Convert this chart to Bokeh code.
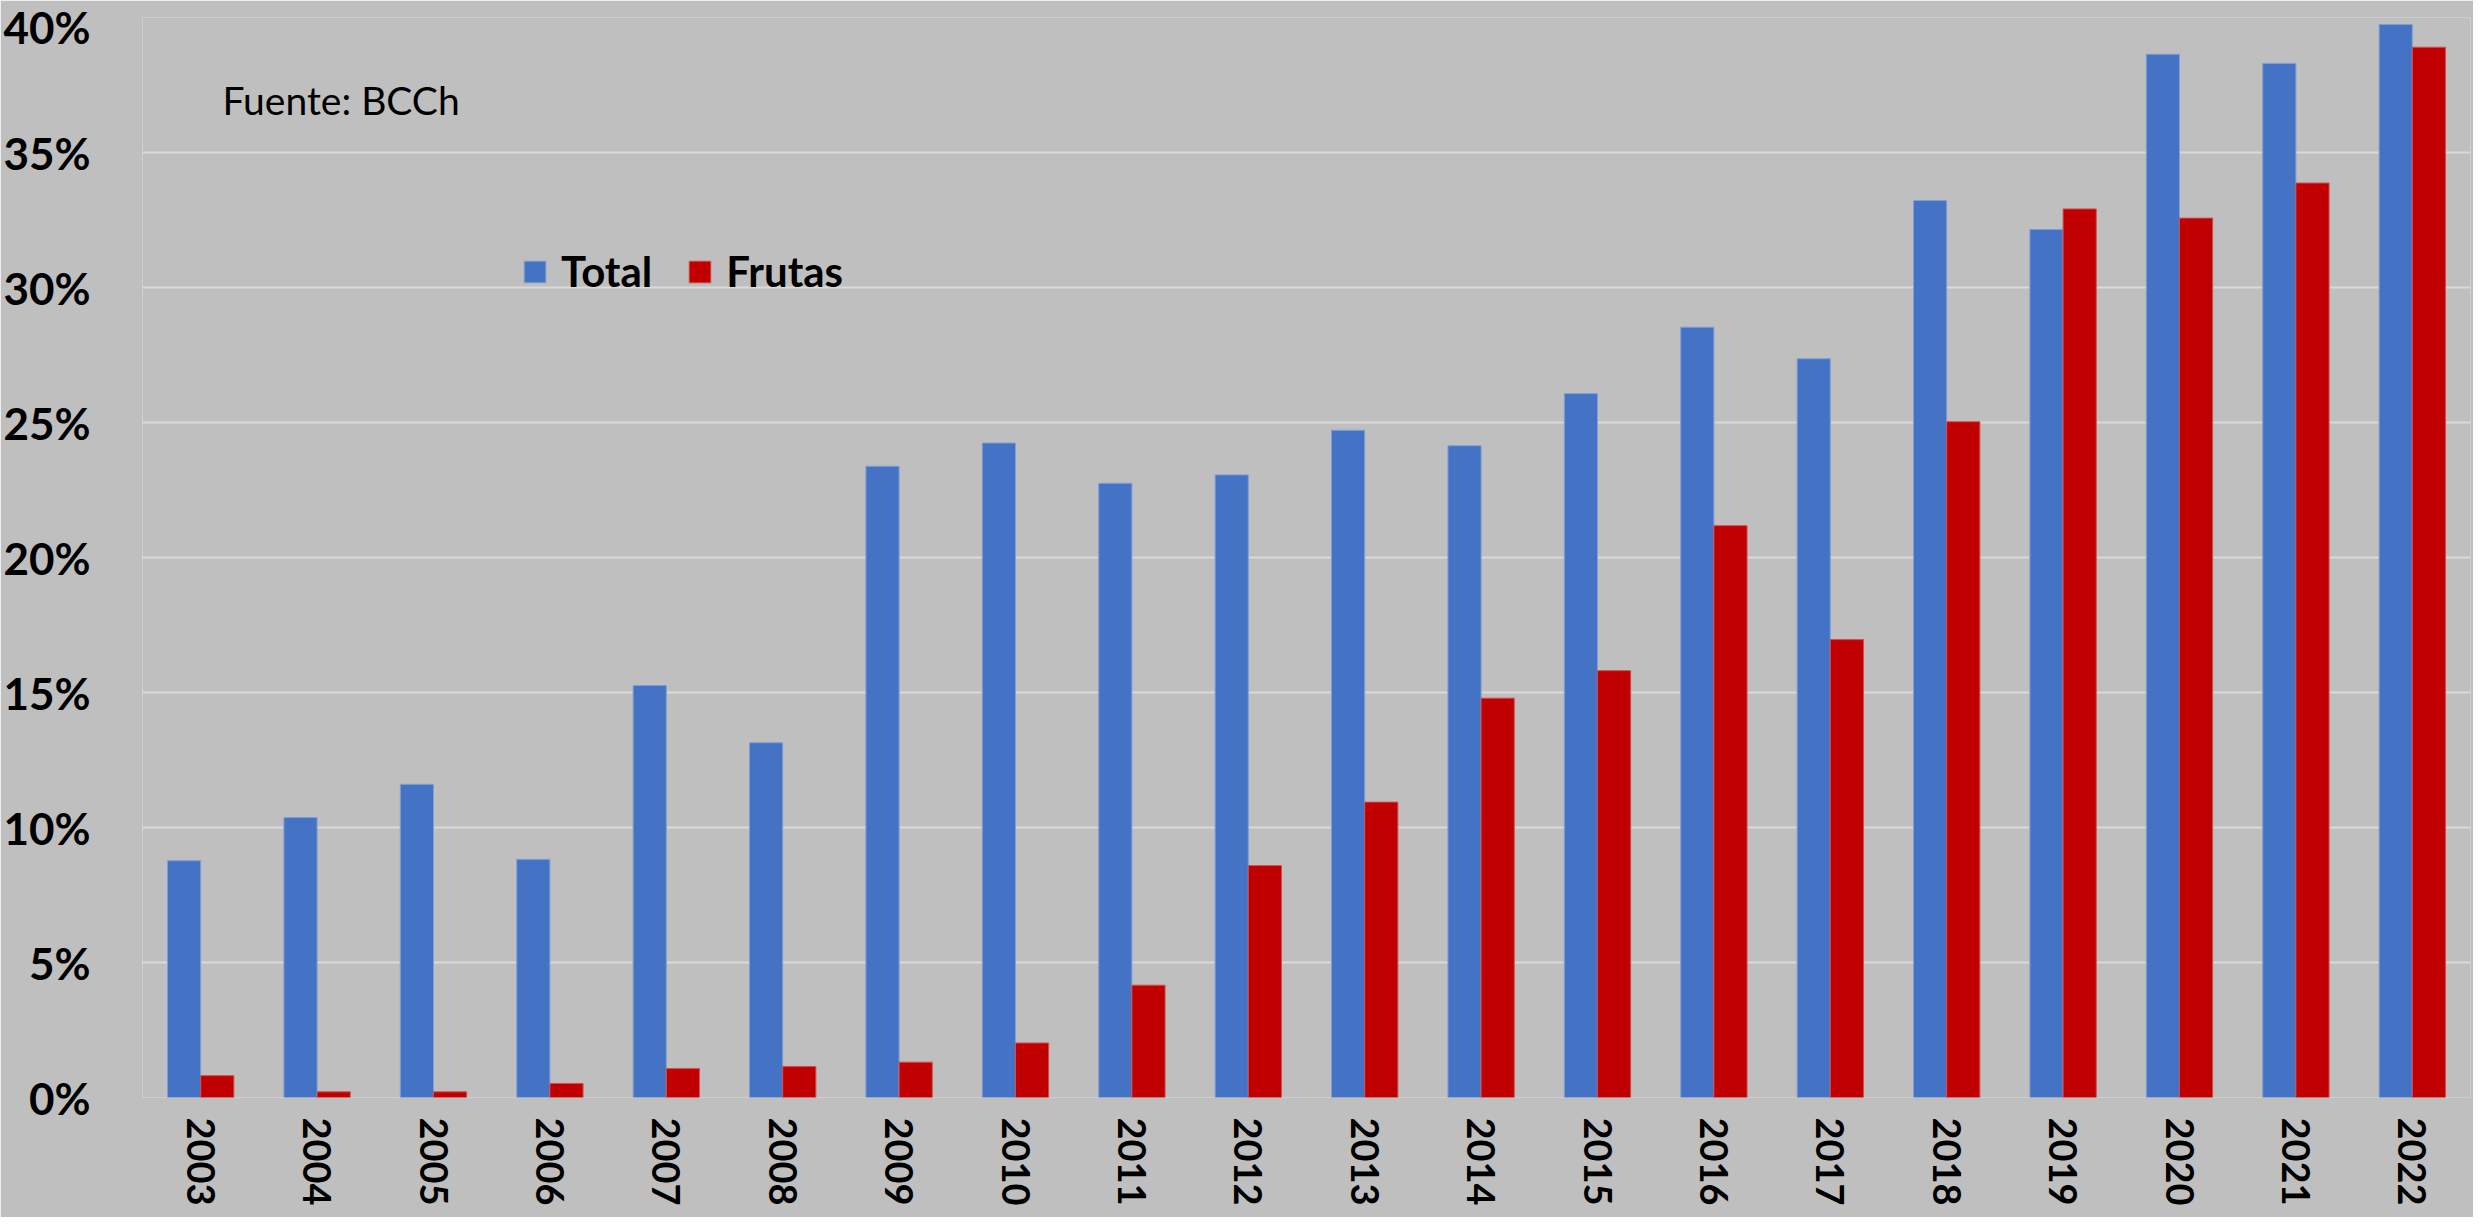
import math
from bokeh.plotting import figure
from bokeh.models import (ColumnDataSource, FactorRange, Range1d, FixedTicker,
                          PrintfTickFormatter, Legend, LegendItem, Label)
from bokeh.transform import dodge
from bokeh.embed import file_html
from bokeh.resources import INLINE

years = [str(y) for y in range(2003, 2023)]
total = [8.77, 10.37, 11.6, 8.82, 15.26, 13.14, 23.38, 24.24, 22.75, 23.06,
         24.71, 24.14, 26.07, 28.53, 27.36, 33.22, 32.15, 38.64, 38.3, 39.74]
frutas = [0.81, 0.21, 0.21, 0.52, 1.07, 1.15, 1.31, 2.02, 4.16, 8.59,
          10.94, 14.79, 15.81, 21.18, 16.96, 25.03, 32.91, 32.57, 33.87, 38.9]
y_ticks = [0, 5, 10, 15, 20, 25, 30, 35, 40]

src = ColumnDataSource(dict(year=years, total=total, frutas=frutas))

BG = "#bfbfbf"
FONT = "Lato"

p = figure(x_range=FactorRange(*years), y_range=Range1d(0, 40),
           width=2473, height=1217, output_backend="svg", toolbar_location=None,
           min_border_left=133, min_border_right=3, min_border_top=17,
           min_border_bottom=120)
p.background_fill_color = BG
p.border_fill_color = BG
p.outline_line_color = None
p.x_range.range_padding = 0
p.x_range.factor_padding = 0

bw = 0.285
r1 = p.vbar(x=dodge("year", -bw / 2, range=p.x_range), top="total", width=bw,
            source=src, fill_color="#4472C4", line_color="#7f9fd6", line_width=1)
r2 = p.vbar(x=dodge("year", bw / 2, range=p.x_range), top="frutas", width=bw,
            source=src, fill_color="#C00000", line_color="#cf5050", line_width=1)

p.xgrid.grid_line_color = None
p.ygrid.grid_line_color = "#dadada"
p.ygrid.grid_line_width = 2
p.ygrid.ticker = FixedTicker(ticks=y_ticks)

p.yaxis.ticker = FixedTicker(ticks=y_ticks)
p.yaxis.formatter = PrintfTickFormatter(format="%d%%")
p.yaxis.axis_line_color = None
p.yaxis.major_tick_line_color = None
p.yaxis.minor_tick_line_color = None
p.yaxis.major_label_text_font = FONT
p.yaxis.major_label_text_font_style = "bold"
p.yaxis.major_label_text_font_size = "44px"
p.yaxis.major_label_text_color = "black"
p.yaxis.major_label_standoff = 46

p.xaxis.axis_line_color = None
p.xaxis.major_tick_line_color = None
p.xaxis.minor_tick_line_color = None
p.xaxis.major_label_text_font = FONT
p.xaxis.major_label_text_font_style = "bold"
p.xaxis.major_label_text_font_size = "38px"
p.xaxis.major_label_text_color = "black"
p.xaxis.major_label_orientation = -math.pi / 2
p.xaxis.major_label_standoff = 14

legend = Legend(items=[LegendItem(label="Total", renderers=[r1]),
                       LegendItem(label="Frutas", renderers=[r2])],
                orientation="horizontal", location=(379, 801),
                background_fill_alpha=0, border_line_color=None,
                padding=0, margin=0, spacing=34, label_standoff=13,
                glyph_width=27, glyph_height=27,
                label_text_font=FONT, label_text_font_style="bold",
                label_text_font_size="42px", label_text_color="black")
p.add_layout(legend, "center")

src_label = Label(x=80, y=998, x_units="screen", y_units="screen",
                  text="Fuente: BCCh", text_font=FONT, text_font_size="39px",
                  text_color="black", text_baseline="alphabetic")
p.add_layout(src_label)

open("out.html", "w").write(file_html(p, INLINE))
